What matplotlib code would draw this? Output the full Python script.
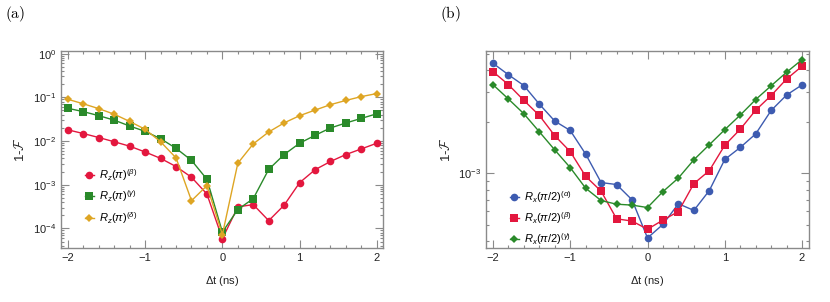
import matplotlib
matplotlib.use("Agg")
import matplotlib.pyplot as plt
from matplotlib.ticker import LogLocator, MultipleLocator, NullFormatter

plt.rcParams['font.family'] = ['Liberation Sans', 'DejaVu Sans']
plt.rcParams['mathtext.fontset'] = 'custom'
plt.rcParams['mathtext.rm'] = 'Liberation Sans'
plt.rcParams['mathtext.it'] = 'Liberation Sans:italic'
plt.rcParams['mathtext.bf'] = 'Liberation Sans:bold'

# time offsets (ns)
dt = [-2.0, -1.8, -1.6, -1.4, -1.2, -1.0, -0.8, -0.6, -0.4, -0.2, 0.0,
      0.2, 0.4, 0.6, 0.8, 1.0, 1.2, 1.4, 1.6, 1.8, 2.0]

# panel (a): Rz(pi) infidelities
rz_beta = [0.018, 0.0148, 0.012, 0.0096, 0.0076, 0.0056, 0.0040, 0.0026, 0.00148, 0.00061, 5.8e-5,
           0.00031, 0.00035, 0.00015, 0.00034, 0.00111, 0.0022, 0.0034, 0.0049, 0.0066, 0.0089]
rz_gamma = [0.056, 0.047, 0.038, 0.030, 0.022, 0.0166, 0.0113, 0.0068, 0.0036, 0.00133, 8.2e-5,
            0.00027, 0.00048, 0.00224, 0.0049, 0.0089, 0.0135, 0.0199, 0.0259, 0.033, 0.042]
rz_delta = [0.090, 0.071, 0.055, 0.041, 0.028, 0.0185, 0.0096, 0.0041, 0.00043, 0.00095, 7.2e-5,
            0.0031, 0.0086, 0.0161, 0.026, 0.038, 0.051, 0.068, 0.085, 0.104, 0.122]

# panel (b): Rx(pi/2) infidelities
rx_alpha = [4.40e-3, 3.77e-3, 3.26e-3, 2.54e-3, 2.02e-3, 1.78e-3, 1.295e-3, 8.83e-4, 8.6e-4, 7.0e-4, 4.19e-4,
            5.03e-4, 6.64e-4, 6.07e-4, 7.93e-4, 1.205e-3, 1.416e-3, 1.70e-3, 2.33e-3, 2.87e-3, 3.29e-3]
rx_beta = [3.93e-3, 3.30e-3, 2.67e-3, 2.18e-3, 1.66e-3, 1.34e-3, 9.6e-4, 7.86e-4, 5.42e-4, 5.26e-4, 4.71e-4,
           5.33e-4, 5.98e-4, 8.71e-4, 1.037e-3, 1.46e-3, 1.81e-3, 2.34e-3, 2.85e-3, 3.56e-3, 4.23e-3]
rx_gamma = [3.30e-3, 2.72e-3, 2.23e-3, 1.75e-3, 1.37e-3, 1.08e-3, 8.18e-4, 6.93e-4, 6.6e-4, 6.52e-4, 6.31e-4,
            7.82e-4, 9.39e-4, 1.20e-3, 1.47e-3, 1.80e-3, 2.19e-3, 2.70e-3, 3.25e-3, 3.90e-3, 4.62e-3]

red = '#e3173e'
green = '#2a8a2a'
gold = '#dea523'
blue = '#3d5bb0'
frame = '#8a8a8a'

fig = plt.figure(figsize=(8.3, 3.02), dpi=100)
axa = fig.add_axes([61 / 830, 1 - 248 / 302, 322 / 830, 197 / 302])
axb = fig.add_axes([486 / 830, 1 - 248 / 302, 323 / 830, 197 / 302])


def style(ax):
    ax.set_yscale('log')
    ax.set_xlim(-2.09, 2.08)
    ax.xaxis.set_major_locator(MultipleLocator(1))
    ax.xaxis.set_minor_locator(MultipleLocator(0.2))
    ax.yaxis.set_minor_locator(LogLocator(base=10, subs=range(2, 10)))
    ax.yaxis.set_minor_formatter(NullFormatter())
    ax.tick_params(which='both', direction='in', top=True, right=True,
                   color=frame, labelcolor='#222222', labelsize=8, width=0.8)
    ax.tick_params(which='major', length=6)
    ax.tick_params(which='minor', length=2.5)
    for s in ax.spines.values():
        s.set_color(frame)
        s.set_linewidth(1.0)
    ax.set_xlabel(r'$\Delta$t (ns)', fontsize=8, color='#222222', labelpad=8)
    ax.set_ylabel(r'1-$\mathcal{F}$', fontsize=9.5, color='#222222', math_fontfamily='cm')


kw = dict(lw=1.0, ms=5.5, mew=0)
axa.plot(dt, rz_beta, 'o-', color=red, label=r'$R_z(\pi)^{(\beta)}$', **kw)
axa.plot(dt, rz_gamma, 's-', color=green, label=r'$R_z(\pi)^{(\gamma)}$', **kw)
axa.plot(dt, rz_delta, 'D-', color=gold, label=r'$R_z(\pi)^{(\delta)}$', lw=1.0, ms=4.5, mew=0)
style(axa)
axa.set_ylim(3.55e-5, 1.15)
axa.yaxis.set_major_locator(LogLocator(base=10, numticks=10))
axa.legend(loc='upper left', bbox_to_anchor=(0.05, 0.45), frameon=False, fontsize=8,
           handlelength=0.8, handletextpad=0.5, labelspacing=0.5, borderpad=0.2)

axb.plot(dt, rx_alpha, 'o-', color=blue, label=r'$R_x(\pi/2)^{(\alpha)}$', **kw)
axb.plot(dt, rx_beta, 's-', color=red, label=r'$R_x(\pi/2)^{(\beta)}$', **kw)
axb.plot(dt, rx_gamma, 'D-', color=green, label=r'$R_x(\pi/2)^{(\gamma)}$', lw=1.0, ms=4.5, mew=0)
style(axb)
axb.set_xlim(-2.09, 2.09)
axb.set_ylim(3.66e-4, 5.19e-3)
axb.legend(loc='upper left', bbox_to_anchor=(0.05, 0.34), frameon=False, fontsize=8,
           handlelength=0.8, handletextpad=0.5, labelspacing=0.5, borderpad=0.2)

fig.text(5 / 830, 1 - 14 / 302, r'$\mathrm{(a)}$', fontsize=11, va='center', ha='left',
         math_fontfamily='cm')
fig.text(440 / 830, 1 - 14 / 302, r'$\mathrm{(b)}$', fontsize=11, va='center', ha='left',
         math_fontfamily='cm')

fig.savefig('out.png', dpi=100)
